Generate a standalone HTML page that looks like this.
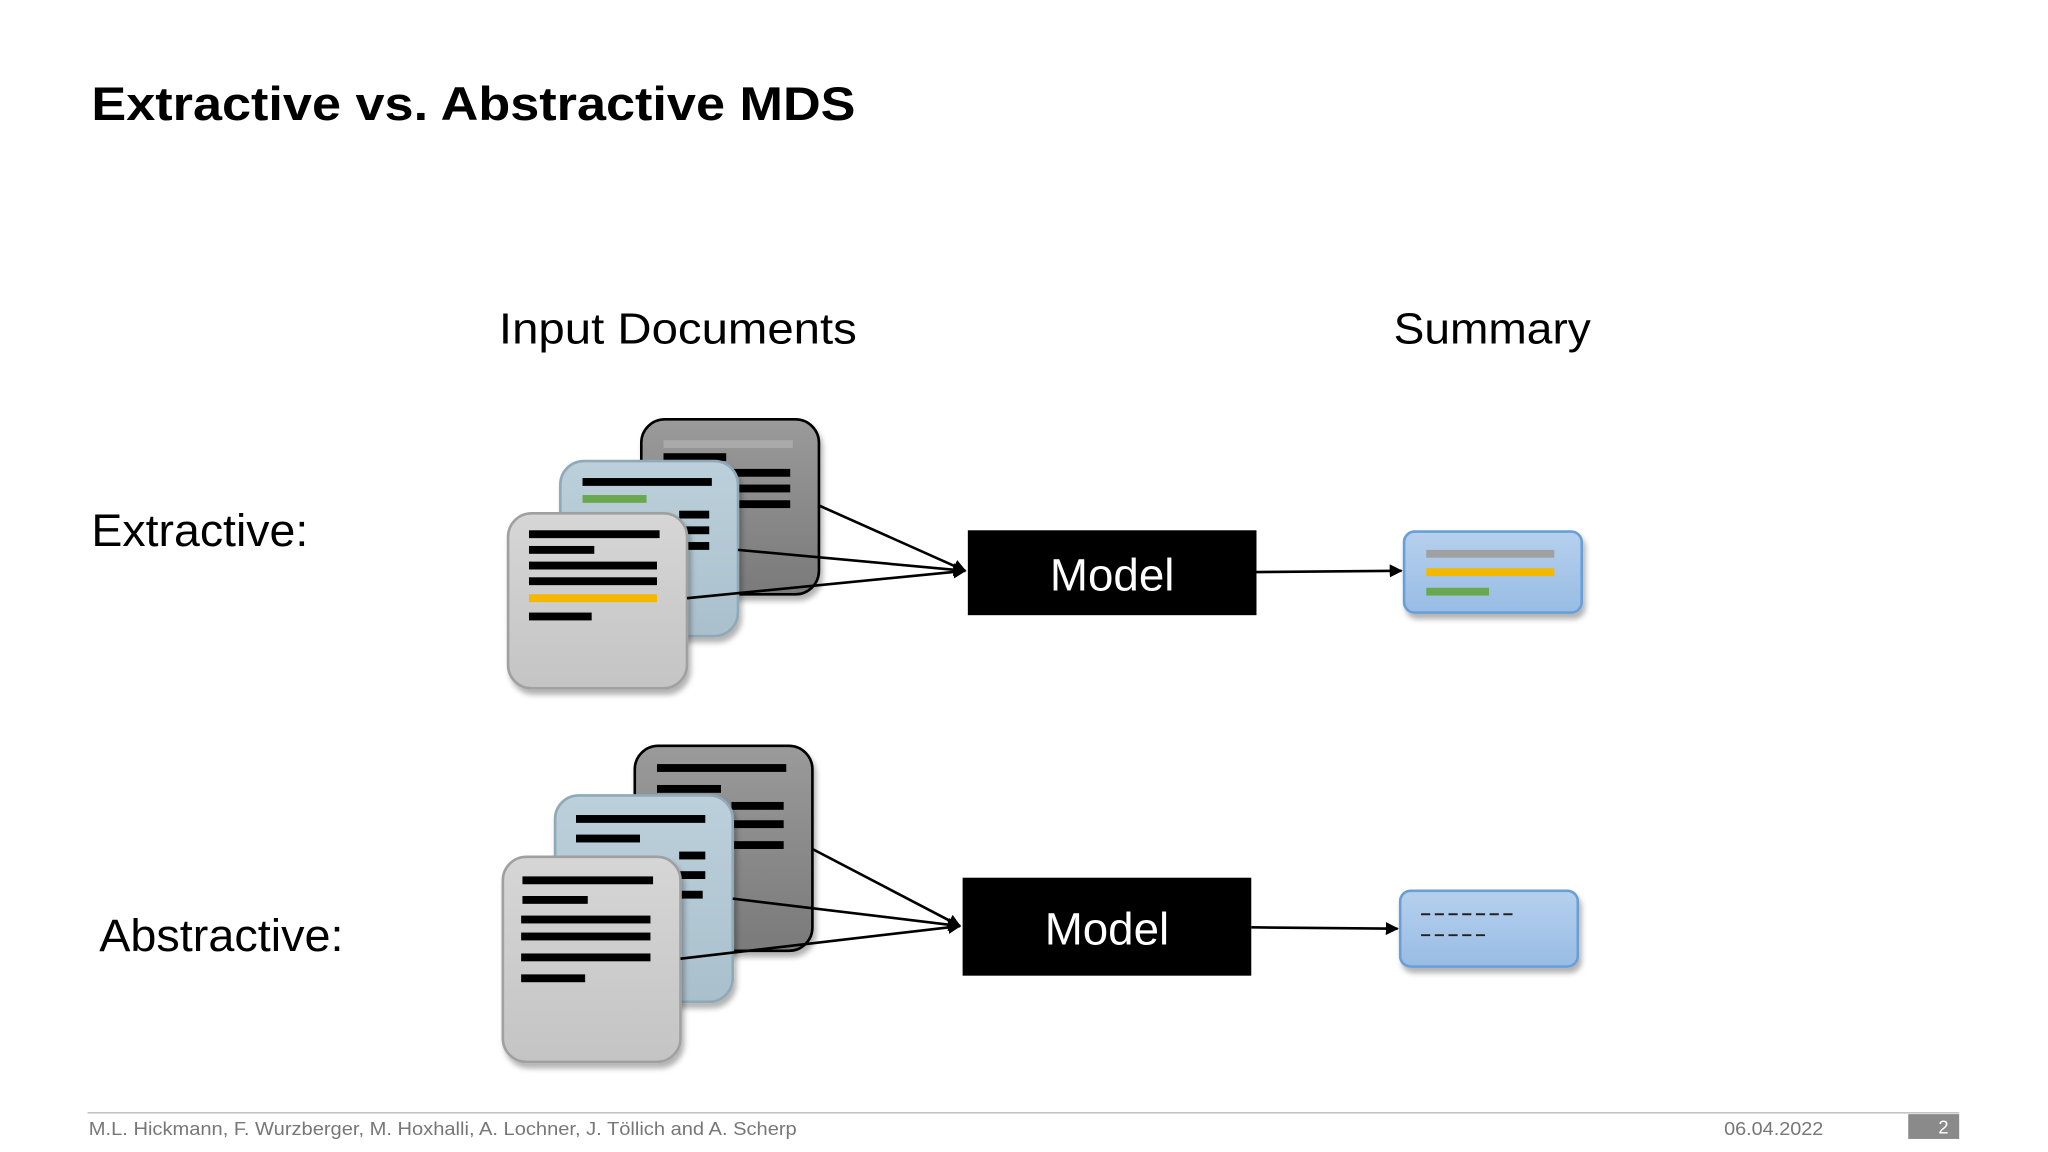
<!DOCTYPE html>
<html><head><meta charset="utf-8"><style>
html,body{margin:0;padding:0;background:#fff;}
svg{display:block;}
</style></head><body>
<svg width="2048" height="1152" viewBox="0 0 1568 882" xmlns="http://www.w3.org/2000/svg" font-family="'Liberation Sans', sans-serif">
<defs>
<filter id="sh" x="-10%" y="-10%" width="130%" height="130%"><feDropShadow dx="2" dy="4" stdDeviation="2" flood-color="#000" flood-opacity="0.3"/></filter>
<linearGradient id="gd" x1="0" y1="0" x2="0" y2="1"><stop offset="0" stop-color="#9a9a9a"/><stop offset="1" stop-color="#7a7a7a"/></linearGradient>
<linearGradient id="gb" x1="0" y1="0" x2="0" y2="1"><stop offset="0" stop-color="#bcd0db"/><stop offset="1" stop-color="#a9c0cc"/></linearGradient>
<linearGradient id="gl" x1="0" y1="0" x2="0" y2="1"><stop offset="0" stop-color="#d6d6d6"/><stop offset="1" stop-color="#c4c4c4"/></linearGradient>
<linearGradient id="gs" x1="0" y1="0" x2="0" y2="1"><stop offset="0" stop-color="#b6d0ee"/><stop offset="1" stop-color="#98bce4"/></linearGradient>
<marker id="ah" markerWidth="10" markerHeight="10" refX="9" refY="5" orient="auto" markerUnits="userSpaceOnUse"><path d="M0,0 L10,5 L0,10 z" fill="#000"/></marker>
</defs>
<text x="70" y="92" font-size="36" font-weight="bold" textLength="585" lengthAdjust="spacingAndGlyphs">Extractive vs. Abstractive MDS</text>
<text x="382" y="263" font-size="33" textLength="274" lengthAdjust="spacingAndGlyphs">Input Documents</text>
<text x="1067" y="263" font-size="33" textLength="151" lengthAdjust="spacingAndGlyphs">Summary</text>
<text x="70" y="418" font-size="35" textLength="166" lengthAdjust="spacingAndGlyphs">Extractive:</text>
<text x="76" y="728" font-size="35" textLength="187" lengthAdjust="spacingAndGlyphs">Abstractive:</text>

<!-- top group -->
<rect x="491" y="321" width="136" height="134" rx="18" fill="url(#gd)" stroke="#000" stroke-width="2" filter="url(#sh)"/>
<g fill="#000"><rect x="508" y="337" width="99" height="6" fill="#aaa"/><rect x="508" y="347" width="48" height="6"/><rect x="560" y="359" width="45" height="6"/><rect x="560" y="371" width="45" height="6"/><rect x="560" y="383" width="45" height="6"/></g>
<rect x="429" y="353" width="136" height="134" rx="18" fill="url(#gb)" stroke="#8fa9b8" stroke-width="2" filter="url(#sh)"/>
<g fill="#000"><rect x="446" y="366" width="99" height="6"/><rect x="446" y="379" width="49" height="6" fill="#6aa84f"/><rect x="520" y="391" width="23" height="6"/><rect x="520" y="403" width="23" height="6"/><rect x="520" y="415" width="23" height="6"/></g>
<rect x="389" y="393" width="137" height="134" rx="18" fill="url(#gl)" stroke="#a0a0a0" stroke-width="2" filter="url(#sh)"/>
<g fill="#000"><rect x="405" y="406" width="100" height="6"/><rect x="405" y="418" width="50" height="6"/><rect x="405" y="430" width="98" height="6"/><rect x="405" y="442" width="98" height="6"/><rect x="405" y="455" width="98" height="6" fill="#f5b800"/><rect x="405" y="469" width="48" height="6"/></g>
<g stroke="#000" stroke-width="2" fill="none"><line x1="627" y1="387" x2="739" y2="437" marker-end="url(#ah)"/><line x1="565" y1="421" x2="739" y2="437" marker-end="url(#ah)"/><line x1="526" y1="458" x2="739" y2="437" marker-end="url(#ah)"/><line x1="962" y1="438" x2="1073" y2="437" marker-end="url(#ah)"/></g>
<rect x="741" y="406" width="221" height="65" fill="#000"/>
<text x="851.5" y="452" font-size="35" fill="#fff" text-anchor="middle">Model</text>
<rect x="1075" y="407" width="136" height="62" rx="8" fill="url(#gs)" stroke="#6a9fd6" stroke-width="2" filter="url(#sh)"/>
<rect x="1092" y="421" width="98" height="6" fill="#a0a0a0"/><rect x="1092" y="435" width="98" height="6" fill="#f5b800"/><rect x="1092" y="450" width="48" height="6" fill="#6aa84f"/>

<!-- bottom group -->
<rect x="486" y="571" width="136" height="157" rx="18" fill="url(#gd)" stroke="#000" stroke-width="2" filter="url(#sh)"/>
<g fill="#000"><rect x="503" y="585" width="99" height="6"/><rect x="503" y="601" width="49" height="6"/><rect x="560" y="614" width="40" height="6"/><rect x="560" y="628" width="40" height="6"/><rect x="560" y="644" width="40" height="6"/></g>
<rect x="425" y="609" width="136" height="158" rx="18" fill="url(#gb)" stroke="#8fa9b8" stroke-width="2" filter="url(#sh)"/>
<g fill="#000"><rect x="441" y="624" width="99" height="6"/><rect x="441" y="639" width="49" height="6"/><rect x="520" y="652" width="20" height="6"/><rect x="520" y="667" width="20" height="6"/><rect x="520" y="682" width="18" height="6"/></g>
<rect x="385" y="656" width="136" height="157" rx="18" fill="url(#gl)" stroke="#a0a0a0" stroke-width="2" filter="url(#sh)"/>
<g fill="#000"><rect x="400" y="671" width="100" height="6"/><rect x="400" y="686" width="50" height="6"/><rect x="399" y="701" width="99" height="6"/><rect x="399" y="714" width="99" height="6"/><rect x="399" y="730" width="99" height="6"/><rect x="399" y="746" width="49" height="6"/></g>
<g stroke="#000" stroke-width="2" fill="none"><line x1="622" y1="650" x2="735" y2="709" marker-end="url(#ah)"/><line x1="561" y1="688" x2="735" y2="709" marker-end="url(#ah)"/><line x1="521" y1="734" x2="735" y2="709" marker-end="url(#ah)"/><line x1="958" y1="710" x2="1070" y2="711" marker-end="url(#ah)"/></g>
<rect x="737" y="672" width="221" height="75" fill="#000"/>
<text x="847.5" y="723" font-size="35" fill="#fff" text-anchor="middle">Model</text>
<rect x="1072" y="682" width="136" height="58" rx="8" fill="url(#gs)" stroke="#6a9fd6" stroke-width="2" filter="url(#sh)"/>
<g stroke="#222" stroke-width="1.5" stroke-dasharray="7,3.5"><line x1="1088" y1="700" x2="1160" y2="700"/><line x1="1088" y1="716" x2="1138" y2="716"/></g>

<!-- footer -->
<line x1="67" y1="852" x2="1500" y2="852" stroke="#bbb" stroke-width="1"/>
<text x="68" y="869" font-size="14" fill="#777" textLength="542" lengthAdjust="spacingAndGlyphs">M.L. Hickmann, F. Wurzberger, M. Hoxhalli, A. Lochner, J. Töllich and A. Scherp</text>
<text x="1320" y="869" font-size="14" fill="#777" textLength="76" lengthAdjust="spacingAndGlyphs">06.04.2022</text>
<rect x="1461" y="853" width="39" height="19" fill="#8a8a8a"/>
<text x="1488" y="868" font-size="14" fill="#fff" text-anchor="middle">2</text>
</svg>
</body></html>
